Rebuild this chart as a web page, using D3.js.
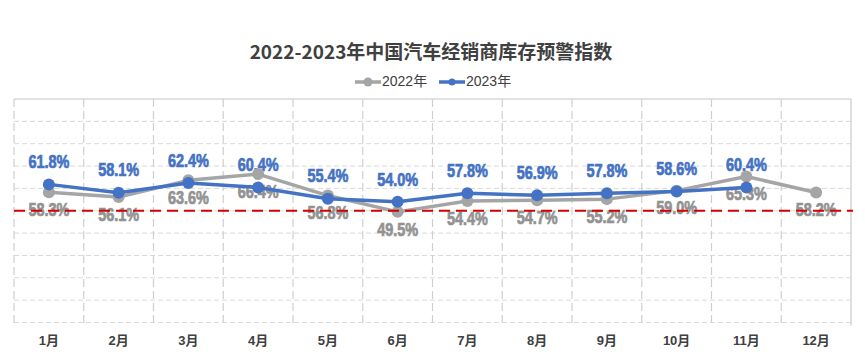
<!DOCTYPE html>
<html><head><meta charset="utf-8">
<script src="https://cdn.jsdelivr.net/npm/d3@7"></script>
<style>
html,body{margin:0;padding:0;background:#fff;}
svg{display:block;}
</style></head>
<body>
<svg id="chart" width="865" height="360"></svg>
<script>
const months = ["1月","2月","3月","4月","5月","6月","7月","8月","9月","10月","11月","12月"];
const series2022 = [58.3,56.1,63.6,66.4,56.8,49.5,54.4,54.7,55.2,59.0,65.3,58.2];
const series2023 = [61.8,58.1,62.4,60.4,55.4,54.0,57.8,56.9,57.8,58.6,60.4];
const yTicks = [0,10,20,30,40,50,60,70,80,90];
const warningLevel = 50;
const title = "2022-2023年中国汽车经销商库存预警指数";
const legendNames = ["2022年","2023年"];

(function(){
const svg = d3.select("#chart");
const pL = 14, pR = 851, pT = 99, pB = 322.5;
const x = d3.scaleBand().domain(months).range([pL, pR]).padding(0);
const y = d3.scaleLinear().domain([0,100]).range([pB, pT]);
const cx = m => x(m) + x.bandwidth()/2;

const C22 = "#a5a5a5", C22T = "#929292", C23 = "#4472c4";
const grid = svg.append("g");
grid.selectAll("line.h").data(yTicks).join("line")
  .attr("x1", pL).attr("x2", pR).attr("y1", d=>y(d)).attr("y2", d=>y(d))
  .attr("stroke", "#d9d9d9").attr("stroke-width", 1).attr("stroke-dasharray", "5,3");
grid.append("line").attr("x1", pL).attr("x2", pR).attr("y1", y(100)).attr("y2", y(100))
  .attr("stroke", "#d9d9d9").attr("stroke-width", 1.5);
const edges = months.map(m => x(m));
grid.selectAll("line.v").data(edges).join("line")
  .attr("x1", d=>d).attr("x2", d=>d).attr("y1", y(100)).attr("y2", pB+3)
  .attr("stroke", "#cfcfcf").attr("stroke-width", 1.2).attr("stroke-dasharray", "8,4");
grid.append("line").attr("x1", pR).attr("x2", pR).attr("y1", y(100)).attr("y2", pB+3)
  .attr("stroke", "#d4d4d4").attr("stroke-width", 1.5);

svg.append("text").attr("x", 431).attr("y", 54).attr("text-anchor","middle")
  .attr("dominant-baseline","middle")
  .style("font-family","'Noto Sans CJK SC','Noto Sans',sans-serif").style("font-weight","bold")
  .style("font-size","19px").attr("fill","#404040").text(title);

const lg = svg.append("g").style("font-family","'Liberation Sans','Noto Sans CJK SC',sans-serif").style("font-size","14px");
[[355, C22, legendNames[0], 4.5],[439, C23, legendNames[1], 3.5]].forEach(([lx,c,t,r])=>{
  lg.append("line").attr("x1",lx).attr("x2",lx+26).attr("y1",82).attr("y2",82).attr("stroke",c).attr("stroke-width",3.5);
  lg.append("circle").attr("cx",lx+13).attr("cy",82).attr("r",r).attr("fill",c);
  lg.append("text").attr("x",lx+27).attr("y",82).attr("dominant-baseline","middle").attr("fill","#404040").text(t);
});

svg.append("g").selectAll("text").data(months).join("text")
  .attr("x", d=>cx(d)).attr("y", 342).attr("text-anchor","middle").attr("dominant-baseline","middle")
  .style("font-family","'Liberation Sans','Noto Sans CJK SC',sans-serif").style("font-weight","bold")
  .style("font-size","13px").attr("fill","#404040").text(d=>d);

const labelFont = "'Liberation Sans','Arial',sans-serif";
function labels(data, color, dy){
  svg.append("g").selectAll("text").data(data).join("text")
    .attr("x",(d,i)=>cx(months[i])-20.5).attr("y",(d,i)=>y(d)+dy).attr("dominant-baseline","middle")
    .attr("textLength",41).attr("lengthAdjust","spacingAndGlyphs")
    .style("font-family",labelFont).style("font-weight","bold").style("font-size","18px")
    .attr("fill",color).attr("stroke",color).attr("stroke-width",0.7).text(d=>d.toFixed(1)+"%");
}
labels(series2023, C23, -21);
labels(series2022, C22T, 19);

const line = d3.line().x((d,i)=>cx(months[i])).y(d=>y(d));
svg.append("path").datum(series2022).attr("d",line).attr("fill","none").attr("stroke",C22).attr("stroke-width",3.5).attr("stroke-linejoin","round");
svg.append("g").selectAll("circle").data(series2022).join("circle")
  .attr("cx",(d,i)=>cx(months[i])).attr("cy",d=>y(d)).attr("r",6).attr("fill",C22);
svg.append("path").datum(series2023).attr("d",line).attr("fill","none").attr("stroke",C23).attr("stroke-width",3.5).attr("stroke-linejoin","round");
svg.append("g").selectAll("circle").data(series2023).join("circle")
  .attr("cx",(d,i)=>cx(months[i])).attr("cy",d=>y(d)).attr("r",6).attr("fill",C23);

svg.append("line").attr("x1",pL).attr("x2",pR+2).attr("y1",y(warningLevel)).attr("y2",y(warningLevel))
  .attr("stroke","#d40000").attr("stroke-width",2).attr("stroke-dasharray","11,6");
})();
</script>
</body></html>
